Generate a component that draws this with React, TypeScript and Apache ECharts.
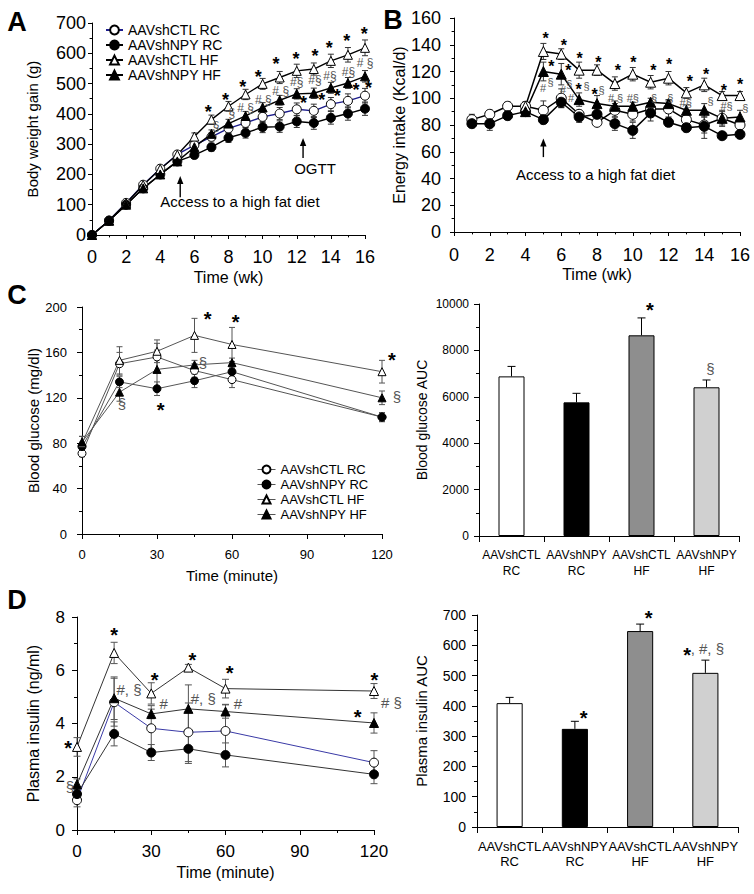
import React, { useEffect, useRef } from "react";
import * as echarts from "echarts";

const FONT = '"Liberation Sans", Arial, Helvetica, sans-serif';

const groupNames = ["AAVshCTL RC", "AAVshNPY RC", "AAVshCTL HF", "AAVshNPY HF"];

// ---- Panel A: body weight gain (g) by week ----
const weeksA = [0, 1, 2, 3, 4, 5, 6, 7, 8, 9, 10, 11, 12, 13, 14, 15, 16];
const bwCtlRc = [0, 48, 106, 166, 219, 266, 297, 324, 352, 370, 390, 401, 415, 410, 432, 443, 460];
const bwNpyRc = [0, 47, 100, 154, 200, 243, 264, 290, 321, 337, 356, 358, 375, 370, 387, 401, 417];
const bwCtlHf = [0, 48, 105, 165, 218, 265, 325, 381, 425, 464, 499, 520, 542, 548, 575, 595, 618];
const bwNpyHf = [0, 47, 100, 154, 200, 243, 290, 334, 368, 393, 421, 445, 466, 468, 486, 502, 524];
const bwCtlRcSe = [0, 4, 6, 7, 8, 9, 11, 13, 15, 16, 18, 20, 21, 22, 22, 23, 24];
const bwNpyRcSe = [0, 4, 6, 7, 8, 9, 11, 13, 15, 17, 18, 19, 20, 21, 21, 22, 22];
const bwCtlHfSe = [0, 4, 6, 7, 8, 9, 12, 15, 16, 17, 18, 20, 22, 20, 22, 24, 26];
const bwNpyHfSe = [0, 4, 6, 7, 8, 9, 11, 13, 14, 15, 16, 16, 17, 17, 18, 18, 19];

// ---- Panel B: energy intake (Kcal/d) by week ----
const weeksB = [1, 2, 3, 4, 5, 6, 7, 8, 9, 10, 11, 12, 13, 14, 15, 16];
const eiCtlRc = [84, 88, 94, 94, 91, 100, 88, 82, 91, 88, 92, 92, 84, 80, 85, 80];
const eiNpyRc = [81, 81, 87, 90, 84, 97, 86, 88, 81, 76, 89, 82, 78, 79, 72, 73];
const eiCtlHf = [null, null, null, 94, 135, 133, 121, 121, 111, 118, 112, 115, 104, 110, 102, 102];
const eiNpyHf = [null, null, null, 90, 120, 118, 99, 96, 94, 94, 97, 96, 91, 91, 85, 86];
const eiCtlRcSe = [4, 3, 3, 3, 7, 7, 3, 3, 5, 5, 4, 6, 4, 6, 5, 4];
const eiNpyRcSe = [3, 5, 3, 3, 3, 4, 4, 4, 5, 6, 6, 3, 3, 9, 2, 3];
const eiCtlHfSe = [null, null, null, 3, 6, 4, 6, 4, 5, 5, 5, 5, 4, 5, 3, 3];
const eiNpyHfSe = [null, null, null, 3, 7, 8, 5, 6, 4, 3, 3, 3, 4, 5, 6, 5];

// ---- OGTT time points (minutes) ----
const minutes = [0, 15, 30, 45, 60, 120];

// ---- Panel C: blood glucose (mg/dl) ----
const bgCtlRc = [71, 150, 156, 144, 136, 103];
const bgNpyRc = [77, 134, 128, 135, 143, 103];
const bgCtlHf = [80, 153, 161, 175, 167, 143];
const bgNpyHf = [81, 125, 145, 149, 151, 120];
const bgCtlRcSe = [3, 10, 12, 6, 7, 4];
const bgNpyRcSe = [4, 5, 6, 6, 6, 4];
const bgCtlHfSe = [6, 12, 10, 15, 15, 10];
const bgNpyHfSe = [5, 8, 17, 4, 4, 6];

// ---- Panel D: plasma insulin (ng/ml) ----
const inCtlRc = [1.12, 4.8, 3.82, 3.67, 3.72, 2.53];
const inNpyRc = [1.35, 3.61, 2.91, 3.05, 2.82, 2.09];
const inCtlHf = [3.12, 6.65, 5.13, 6.1, 5.31, 5.22];
const inNpyHf = [1.72, 4.95, 4.36, 4.55, 4.45, 4.02];
const inCtlRcSe = [0.25, 0.9, 0.85, 1.1, 1.0, 0.45];
const inNpyRcSe = [0.2, 0.45, 0.3, 0.55, 0.45, 0.35];
const inCtlHfSe = [0.35, 0.4, 0.4, 0.12, 0.35, 0.28];
const inNpyHfSe = [0.2, 0.8, 0.18, 0.9, 0.25, 0.38];

// ---- AUC bar charts ----
const barCategories = ["AAVshCTL\nRC", "AAVshNPY\nRC", "AAVshCTL\nHF", "AAVshNPY\nHF"];
const glucoseAuc = [6880, 5760, 8650, 6410];
const glucoseAucSe = [430, 390, 750, 315];
const insulinAuc = [409, 324, 647, 509];
const insulinAucSe = [19, 25, 23, 42];

// ---- significance marks [x, y, text] ----
const marksA: [number, number, string][] = [
  [6.82, 421, "*"], [7.83, 462, "*"], [8.83, 503, "*"], [9.75, 537, "*"], [10.79, 578, "*"],
  [11.96, 597, "*"], [13.07, 607, "*"], [13.91, 633, "*"], [14.93, 657, "*"], [15.96, 677, "*"],
  [12.39, 451, "*"], [13.46, 460, "*"], [14.38, 473, "*"], [15.47, 495, "*"], [16.2, 501, "*"],
  [7.27, 360, "§"], [8.19, 402, "§"], [9.0, 418, "# §"], [10.04, 446, "# §"], [11.06, 476, "# §"],
  [12.0, 506, "#§"], [13.07, 512, "#§"], [13.95, 525, "#§"], [15.03, 539, "#§"], [16.0, 567, "# §"],
];
const marksB: [number, number, string][] = [
  [5.13, 147.5, "*"], [6.15, 142.5, "*"], [7.03, 133, "*"], [8.07, 130, "*"], [9.17, 124, "*"],
  [10.03, 130, "*"], [11.15, 124, "*"], [12.03, 128, "*"], [13.2, 115.6, "*"], [14.11, 121, "*"],
  [15.1, 109, "*"], [16.0, 113, "*"], [5.45, 127, "*"], [6.4, 124, "*"], [6.97, 109.6, "*"], [7.87, 106, "*"],
  [4.98, 108, "#"], [5.4, 112.5, "§"], [6.1, 106, "#"], [6.45, 111, "§"], [6.55, 100, "#"], [7.42, 109, "§"],
  [8.26, 106, "§"], [9.04, 100, "# §"], [10.0, 100, "#§"], [11.19, 100, "§"], [12.1, 100, "§"],
  [12.96, 96.5, "#§"], [14.36, 98, "§"], [15.25, 94.4, "#§"], [16.3, 93, "§"],
];
const marksC: [number, number, string][] = [
  [50.3, 194, "*"], [61.5, 191, "*"], [31.5, 114, "*"], [124, 158, "*"],
  [48.4, 151.5, "§"], [16, 115.4, "§"], [126, 121, "§"],
];
const marksD: [number, number, string][] = [
  [-3.6, 3.27, "*"], [15, 7.52, "*"], [31.4, 5.83, "*"], [46.6, 6.58, "*"], [61.7, 6.08, "*"],
  [120.2, 5.83, "*"], [113.4, 4.42, "*"],
  [-2.9, 1.65, "§"], [21, 5.27, "#, §"], [35, 4.76, "#"], [51, 4.95, "#, §"], [65, 4.76, "#"], [127, 4.77, "# §"],
];
const marksCR: [number, number, string][] = [[2.13, 9950, "*"], [3.06, 7230, "§"]];
const marksDR: [number, number, string][] = [[2.13, 708, "*"], [1.135, 378, "*"], [2.72, 585, "*"], [3.03, 591, ", #, §"]];

// ---- notes and arrows ----
const notesA: [number, number, string][] = [[8.67, 109, "Access to a high fat diet"], [13.07, 221, "OGTT"]];
const notesB: [number, number, string][] = [[7.92, 43, "Access to a high fat diet"]];
const arrowsA: [number, number, number][] = [[5.17, 125, 195], [12.37, 254, 320]];
const arrowsB: [number, number, number][] = [[5.0, 56, 70]];

const groupSymbols = [
  { symbol: "circle", fill: "#fff" },
  { symbol: "circle", fill: "#000" },
  { symbol: "triangle", fill: "#fff" },
  { symbol: "triangle", fill: "#000" },
];

function errRender(cap: number, color: string, lw: number, upOnly: boolean) {
  return (params: any, api: any) => {
    const x = api.value(0), y = api.value(1), e = api.value(2);
    const hi = api.coord([x, y + e]);
    const lo = api.coord([x, upOnly ? y : y - e]);
    const st = { stroke: color, lineWidth: lw };
    const ch: any[] = [
      { type: "line", shape: { x1: hi[0], y1: hi[1], x2: lo[0], y2: lo[1] }, style: st },
      { type: "line", shape: { x1: hi[0] - cap, y1: hi[1], x2: hi[0] + cap, y2: hi[1] }, style: st },
    ];
    if (!upOnly) ch.push({ type: "line", shape: { x1: lo[0] - cap, y1: lo[1], x2: lo[0] + cap, y2: lo[1] }, style: st });
    return { type: "group", children: ch };
  };
}

function markRender(items: [number, number, string][], starSize: number, markSize: number, category: boolean) {
  return (params: any, api: any) => {
    const it = items[params.dataIndex];
    let p;
    if (category) {
      const base = Math.round(it[0]);
      p = api.coord([base, it[1]]);
      p[0] += (it[0] - base) * api.size([1, 0])[0];
    } else {
      p = api.coord([it[0], it[1]]);
    }
    const star = it[2] === "*";
    return {
      type: "text",
      x: p[0],
      y: p[1] + (star ? starSize * 0.25 : 0),
      style: {
        text: it[2],
        fill: star ? "#000" : "#555",
        fontSize: star ? starSize : markSize,
        fontWeight: star ? "bold" : "normal",
        fontFamily: FONT,
        align: "center",
        verticalAlign: "middle",
      },
    };
  };
}

function noteRender(items: [number, number, string][], size: number) {
  return (params: any, api: any) => {
    const it = items[params.dataIndex];
    const p = api.coord([it[0], it[1]]);
    return {
      type: "text", x: p[0], y: p[1],
      style: { text: it[2], fill: "#000", fontSize: size, fontFamily: FONT, align: "center", verticalAlign: "middle" },
    };
  };
}

function arrowRender(items: [number, number, number][]) {
  return (params: any, api: any) => {
    const a = items[params.dataIndex];
    const t = api.coord([a[0], a[1]]);
    const h = api.coord([a[0], a[2]]);
    return {
      type: "group",
      children: [
        { type: "line", shape: { x1: t[0], y1: t[1], x2: h[0], y2: h[1] + 6 }, style: { stroke: "#000", lineWidth: 1.4 } },
        { type: "polygon", shape: { points: [[h[0], h[1]], [h[0] - 3.2, h[1] + 8], [h[0] + 3.2, h[1] + 8]] }, style: { fill: "#000" } },
      ],
    };
  };
}

function lineSeries(g: number, xs: number[], ysList: (number | null)[][], seList: (number | null)[][], colors: string[], width: number, size: number, errColor: string, cap: number) {
  const out: any[] = [];
  const errData: any[] = [];
  ysList.forEach((ys, k) => {
    const data: any[] = [];
    xs.forEach((x, i) => {
      const y = ys[i];
      if (y == null) return;
      data.push([x, y]);
      const e = seList[k][i];
      if (e != null && e > 0) errData.push([x, y, e]);
    });
    out.push({
      type: "line",
      name: groupNames[k],
      xAxisIndex: g,
      yAxisIndex: g,
      data,
      symbol: groupSymbols[k].symbol,
      symbolSize: size,
      showSymbol: true,
      showAllSymbol: true,
      lineStyle: { color: colors[k], width },
      itemStyle: { color: groupSymbols[k].fill, borderColor: "#000", borderWidth: 1 },
      emphasis: { disabled: true },
      z: 3,
    });
  });
  out.push({
    type: "custom", xAxisIndex: g, yAxisIndex: g, data: errData, encode: { x: 0, y: 1 },
    renderItem: errRender(cap, errColor, 1, false), z: 2, silent: true, clip: false,
  });
  return out;
}

function customText(g: number, items: [number, number, string][], render: any) {
  return {
    type: "custom", xAxisIndex: g, yAxisIndex: g, data: items.map((it) => [it[0], it[1]]),
    encode: { x: 0, y: 1 }, renderItem: render, z: 5, silent: true, clip: false,
  };
}

function valueAxis(g: number, min: number, max: number, interval: number, fontSize: number, margin: number, name: string, nameGap: number, nameSize: number, tickLen: number) {
  return {
    type: "value", gridIndex: g, min, max, interval,
    axisLine: { show: true, onZero: false, lineStyle: { color: "#000", width: 1 } },
    axisTick: { show: true, length: tickLen, lineStyle: { color: "#000" } },
    minorTick: { show: true, splitNumber: 2, length: tickLen * 0.6, lineStyle: { color: "#000" } },
    axisLabel: { color: "#000", fontSize, fontFamily: FONT, margin, formatter: (v: number) => String(v) },
    splitLine: { show: false },
    name, nameLocation: "middle", nameGap, nameMoveOverlap: false,
    nameTextStyle: { color: "#000", fontSize: nameSize, fontFamily: FONT, fontWeight: "normal" },
  };
}

function categoryAxis(g: number, fontSize: number, margin: number, lineHeight: number) {
  return {
    type: "category", gridIndex: g, data: barCategories,
    axisLine: { show: true, lineStyle: { color: "#000", width: 1 } },
    axisTick: { show: true, length: 6, alignWithLabel: false, lineStyle: { color: "#000" } },
    axisLabel: { color: "#000", fontSize, fontFamily: FONT, margin, lineHeight, interval: 0 },
    splitLine: { show: false },
  };
}

const barFills = ["#ffffff", "#000000", "#8e8e8e", "#d0d0d0"];

function barSeries(g: number, values: number[], se: number[]) {
  return [
    {
      type: "bar", xAxisIndex: g, yAxisIndex: g, barWidth: "40%",
      data: values.map((v, i) => ({ value: v, itemStyle: { color: barFills[i], borderColor: "#000", borderWidth: 1 } })),
      emphasis: { disabled: true }, z: 2,
    },
    {
      type: "custom", xAxisIndex: g, yAxisIndex: g, data: values.map((v, i) => [i, v, se[i]]),
      encode: { x: 0, y: 1 }, renderItem: errRender(4, "#000", 1, true), z: 3, silent: true, clip: false,
    },
  ];
}

const letter = (t: string, x: number, y: number) => ({
  type: "text", x, y,
  style: { text: t, fontSize: 27, fontWeight: "bold", fontFamily: FONT, fill: "#000", align: "center", verticalAlign: "middle" },
});

export default function App() {
  const ref = useRef<HTMLDivElement>(null);
  useEffect(() => {
    if (!ref.current) return;
    const chart = echarts.init(ref.current, undefined, { renderer: "svg" });
    const option: any = {
      animation: false,
      backgroundColor: "#fff",
      textStyle: { fontFamily: FONT },
      grid: [
        { left: 92, top: 23, width: 273, height: 212 },
        { left: 454, top: 18, width: 286, height: 214 },
        { left: 82, top: 307, width: 300, height: 227 },
        { left: 479, top: 304, width: 260, height: 232 },
        { left: 77, top: 617, width: 297, height: 213 },
        { left: 477, top: 615, width: 261, height: 212 },
      ],
      xAxis: [
        valueAxis(0, 0, 16, 2, 18, 13, "Time (wk)", 34, 16, 4),
        valueAxis(1, 0, 16, 2, 18, 14, "Time (wk)", 34, 16, 4),
        valueAxis(2, 0, 120, 30, 13, 14, "Time (minute)", 34, 15, 5),
        categoryAxis(3, 12, 11, 16),
        valueAxis(4, 0, 120, 30, 17, 13, "Time (minute)", 34, 16, 5),
        categoryAxis(5, 13, 12, 15),
      ],
      yAxis: [
        valueAxis(0, 0, 700, 100, 18, 6, "Body weight gain (g)", 52, 15, 4),
        valueAxis(1, 0, 160, 20, 18, 13, "Energy intake (Kcal/d)", 47, 16, 4),
        valueAxis(2, 0, 200, 40, 13, 15, "Blood glucose (mg/dl)", 41, 15, 5),
        valueAxis(3, 0, 10000, 2000, 12, 10, "Blood glucose AUC", 50, 14, 5),
        valueAxis(4, 0, 8, 2, 17, 12, "Plasma insulin (ng/ml)", 36, 16, 5),
        valueAxis(5, 0, 700, 100, 14, 11, "Plasma insulin AUC", 48, 15, 5),
      ],
      legend: [
        {
          orient: "vertical", left: 100, top: 18, itemWidth: 17, itemHeight: 11, itemGap: 1,
          selectedMode: false, textStyle: { fontSize: 14, fontFamily: FONT, color: "#000" },
          data: groupNames,
        },
        {
          orient: "vertical", left: 252, top: 458, itemWidth: 18, itemHeight: 10, itemGap: 2,
          selectedMode: false, textStyle: { fontSize: 13, fontFamily: FONT, color: "#000" },
          data: groupNames.map((n) => ({ name: n, lineStyle: { color: "#555", width: 1 } })),
        },
      ],
      graphic: [letter("A", 17, 22), letter("B", 393, 20), letter("C", 17, 295), letter("D", 17, 600)],
      series: [
        ...lineSeries(0, weeksA, [bwCtlRc, bwNpyRc, bwCtlHf, bwNpyHf], [bwCtlRcSe, bwNpyRcSe, bwCtlHfSe, bwNpyHfSe],
          ["#1c1c8c", "#000", "#000", "#000"], 1.4, 9, "#333", 3),
        ...lineSeries(1, weeksB, [eiCtlRc, eiNpyRc, eiCtlHf, eiNpyHf], [eiCtlRcSe, eiNpyRcSe, eiCtlHfSe, eiNpyHfSe],
          ["#000", "#000", "#000", "#000"], 1.5, 10, "#333", 3),
        ...lineSeries(2, minutes, [bgCtlRc, bgNpyRc, bgCtlHf, bgNpyHf], [bgCtlRcSe, bgNpyRcSe, bgCtlHfSe, bgNpyHfSe],
          ["#555", "#555", "#555", "#555"], 1, 8, "#555", 3),
        ...lineSeries(4, minutes, [inCtlRc, inNpyRc, inCtlHf, inNpyHf], [inCtlRcSe, inNpyRcSe, inCtlHfSe, inNpyHfSe],
          ["#3a3aa6", "#333", "#333", "#333"], 1, 9, "#555", 3.5),
        ...barSeries(3, glucoseAuc, glucoseAucSe),
        ...barSeries(5, insulinAuc, insulinAucSe),
        customText(0, marksA, markRender(marksA, 18, 12, false)),
        customText(1, marksB, markRender(marksB, 16, 11, false)),
        customText(2, marksC, markRender(marksC, 20, 15, false)),
        customText(4, marksD, markRender(marksD, 20, 15, false)),
        customText(3, marksCR, markRender(marksCR, 20, 15, true)),
        customText(5, marksDR, markRender(marksDR, 20, 15, true)),
        customText(0, notesA, noteRender(notesA, 15)),
        customText(1, notesB, noteRender(notesB, 15)),
        {
          type: "custom", xAxisIndex: 0, yAxisIndex: 0, data: arrowsA.map((a) => [a[0], a[1], a[2]]),
          encode: { x: 0, y: 1 }, renderItem: arrowRender(arrowsA), z: 5, silent: true, clip: false,
        },
        {
          type: "custom", xAxisIndex: 1, yAxisIndex: 1, data: arrowsB.map((a) => [a[0], a[1], a[2]]),
          encode: { x: 0, y: 1 }, renderItem: arrowRender(arrowsB), z: 5, silent: true, clip: false,
        },
      ],
    };
    chart.setOption(option);
    return () => chart.dispose();
  }, []);
  return <div ref={ref} style={{ position: "absolute", left: 0, top: 0, width: 754, height: 894 }} />;
}
